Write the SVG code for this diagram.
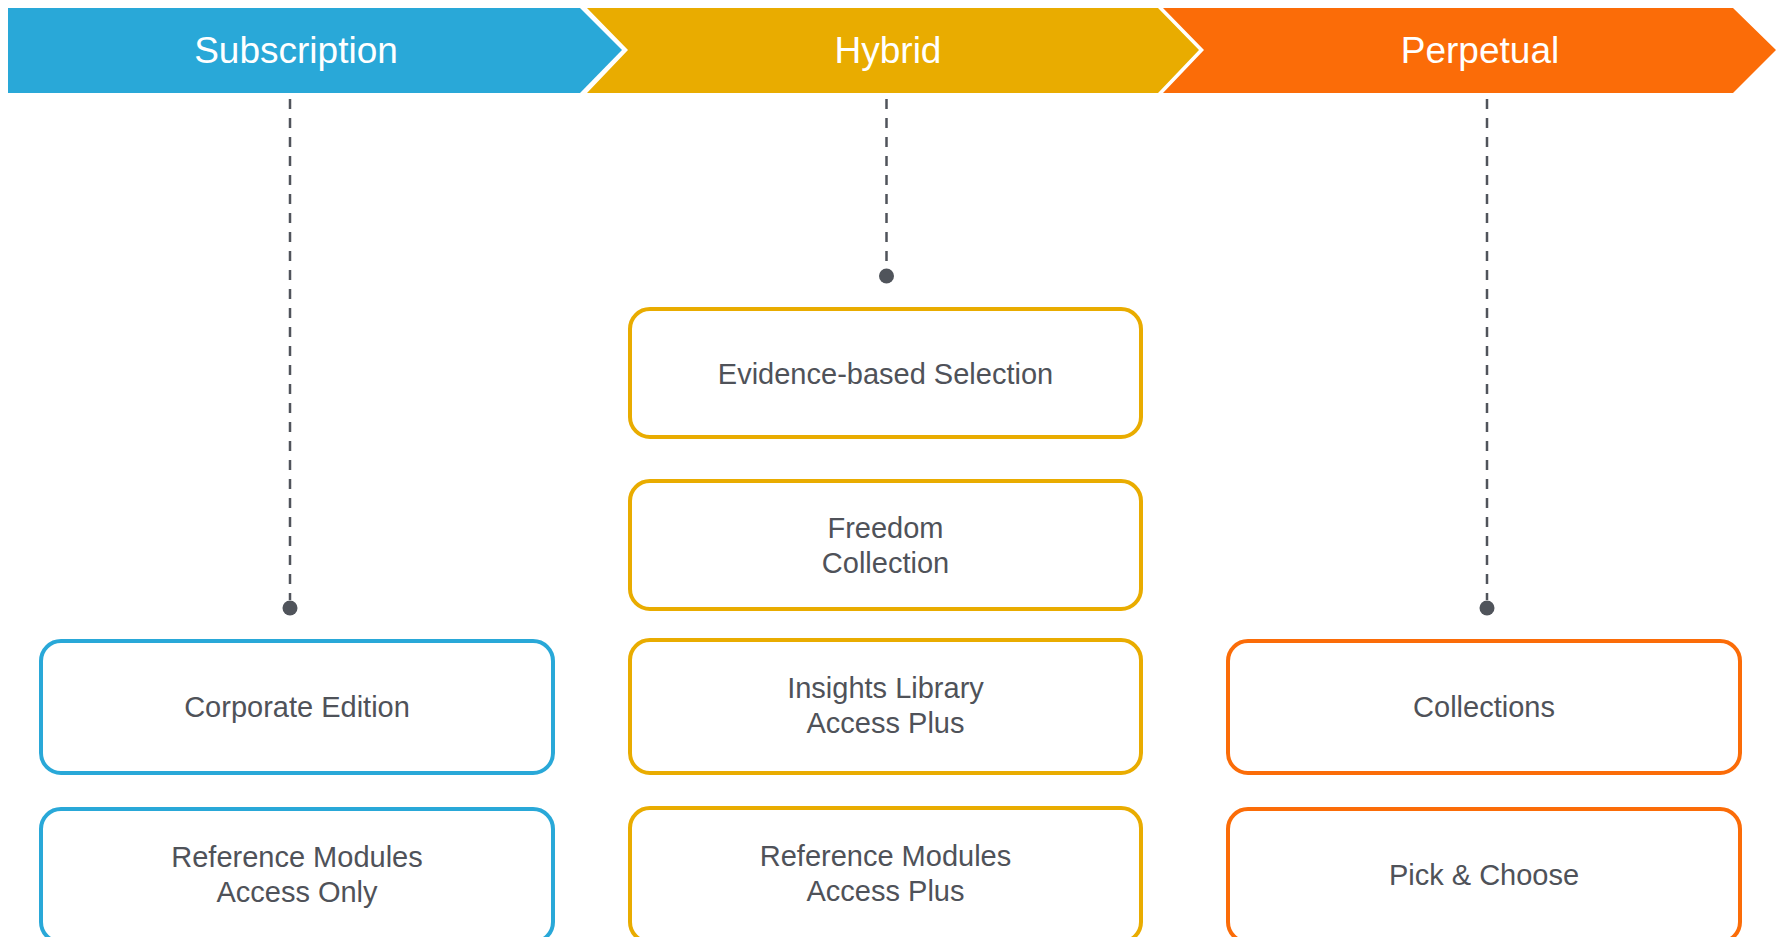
<svg xmlns="http://www.w3.org/2000/svg" width="1779" height="937" viewBox="0 0 1779 937">
<style>
.bt{font-family:"Liberation Sans",Arial,sans-serif;font-size:37px;fill:#ffffff;text-anchor:middle}
.t{font-family:"Liberation Sans",Arial,sans-serif;font-size:29px;fill:#4F5259;text-anchor:middle}
.box{fill:#ffffff;stroke-width:4}
.blue{stroke:#29A8D8}
.gold{stroke:#E9AC00}
.orange{stroke:#FB6C08}
.dash{stroke:#50545B;stroke-width:2.5;stroke-dasharray:10 9;fill:none}
.dot{fill:#50545B}
</style>
<rect width="1779" height="937" fill="#ffffff"/>
<g id="banner-subscription">
<polygon points="8,8 580,8 622,50 580,93 8,93" fill="#29A8D8"/>
<text class="bt" x="296" y="63">Subscription</text>
</g>
<g id="banner-hybrid">
<polygon points="587,8 1158,8 1199,50 1158,93 587,93 628,50" fill="#E9AC00"/>
<text class="bt" x="888" y="63">Hybrid</text>
</g>
<g id="banner-perpetual">
<polygon points="1163,8 1733,8 1776,50 1733,93 1163,93 1204,50" fill="#FB6C08"/>
<text class="bt" x="1480" y="63">Perpetual</text>
</g>
<g id="connectors">
<line class="dash" x1="290" y1="99" x2="290" y2="600"/>
<circle class="dot" cx="290" cy="608" r="7.5"/>
<line class="dash" x1="886.5" y1="99" x2="886.5" y2="268"/>
<circle class="dot" cx="886.5" cy="276" r="7.5"/>
<line class="dash" x1="1487" y1="99" x2="1487" y2="600"/>
<circle class="dot" cx="1487" cy="608" r="7.5"/>
</g>
<g id="corporate-edition">
<rect class="box blue" x="41" y="641" width="512" height="132" rx="20"/>
<text class="t" x="297" y="717">Corporate Edition</text>
</g>
<g id="ref-modules-access-only">
<rect class="box blue" x="41" y="809" width="512" height="133" rx="20"/>
<text class="t" x="297" y="867">Reference Modules</text>
<text class="t" x="297" y="902">Access Only</text>
</g>
<g id="evidence-based-selection">
<rect class="box gold" x="630" y="309" width="511" height="128" rx="20"/>
<text class="t" x="885.5" y="384">Evidence-based Selection</text>
</g>
<g id="freedom-collection">
<rect class="box gold" x="630" y="481" width="511" height="128" rx="20"/>
<text class="t" x="885.5" y="538">Freedom</text>
<text class="t" x="885.5" y="573">Collection</text>
</g>
<g id="insights-library">
<rect class="box gold" x="630" y="640" width="511" height="133" rx="20"/>
<text class="t" x="885.5" y="698">Insights Library</text>
<text class="t" x="885.5" y="733">Access Plus</text>
</g>
<g id="ref-modules-access-plus">
<rect class="box gold" x="630" y="808" width="511" height="134" rx="20"/>
<text class="t" x="885.5" y="866">Reference Modules</text>
<text class="t" x="885.5" y="901">Access Plus</text>
</g>
<g id="collections">
<rect class="box orange" x="1228" y="641" width="512" height="132" rx="20"/>
<text class="t" x="1484" y="717">Collections</text>
</g>
<g id="pick-and-choose">
<rect class="box orange" x="1228" y="809" width="512" height="133" rx="20"/>
<text class="t" x="1484" y="885">Pick &amp; Choose</text>
</g>
</svg>
